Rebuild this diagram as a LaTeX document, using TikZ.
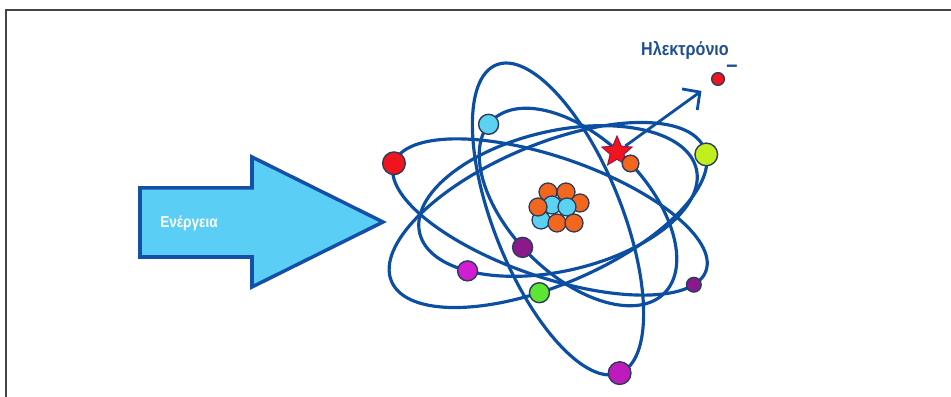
\documentclass[tikz,border=0pt]{standalone}
\usepackage{fontspec}
\setmainfont{Liberation Sans}
\newfontfamily\narrowfont{Liberation Sans Bold}[FakeStretch=0.86]
\usepackage{tikz}
\usetikzlibrary{shapes.geometric,arrows.meta,positioning,calc}
\definecolor{orbitblue}{HTML}{0B4EA2}
\definecolor{arrowfill}{HTML}{5BCEF5}
\definecolor{arrowdraw}{HTML}{1550A8}
\definecolor{labelblue}{HTML}{1F4E94}
\definecolor{edgenavy}{HTML}{2D3C5A}
\definecolor{framegray}{HTML}{444444}
\definecolor{eRed}{HTML}{F0141E}
\definecolor{eLime}{HTML}{BFF01E}
\definecolor{eSky}{HTML}{5CD2F2}
\definecolor{eOrange}{HTML}{F2661E}
\definecolor{ePlum}{HTML}{8A1A8C}
\definecolor{eMagenta}{HTML}{D21ED2}
\definecolor{eGreen}{HTML}{5AE632}
\definecolor{sparkedge}{HTML}{9A1440}
\tikzset{
  orbit/.style={draw=orbitblue,line width=2.7pt},
  electron/.style={circle,draw=edgenavy,line width=1.2pt,fill=#1,inner sep=0pt,minimum size=6mm},
  electron/.default={eRed},
  particle/.style={circle,draw=edgenavy,line width=1.1pt,fill=#1,inner sep=0pt,minimum size=5.4mm},
  particle/.default={eOrange},
  kick/.style={-{Straight Barb[length=3.8mm,width=7.8mm]},draw=orbitblue,line width=2.4pt},
}

\begin{document}
\begin{tikzpicture}[x=0.3mm,y=0.3mm,
  energyarrow/.style={draw=arrowdraw,fill=arrowfill,line width=3pt,line join=miter},
  tag/.style={font=\narrowfont\fontsize{16}{16}\selectfont,text=labelblue},
  spark/.style={star,star points=5,star point ratio=2.2,minimum size=9.6mm,inner sep=0pt,
    fill=eRed,draw=sparkedge,line width=0.8pt},
]
  \useasboundingbox (0,0) rectangle (951,397);
  \draw[framegray,line width=1.6pt] (6,0) -- (6,387) -- (951,387);

  % energy coming in
  \draw[energyarrow] (140,140) -- (140,209) -- (252,209) -- (252,240) -- (383,175)
    -- (252,110) -- (252,140) -- cycle;
  \node[font=\narrowfont\fontsize{13.5}{13.5}\selectfont,text=white] (energy) at (189,174) {Ενέργεια};

  % orbits
  \begin{scope}[shift={(558,178)},rotate=111.8]
    \draw[orbit] (0,0) ellipse [x radius=166,y radius=64];
    \coordinate (atFoot) at (180:166 and 64);
  \end{scope}
  \begin{scope}[shift={(548,182)},rotate=23]
    \draw[orbit] (0,0) ellipse [x radius=170,y radius=70];
    \coordinate (atLime) at (-5:170 and 70);
    \coordinate (atGreen) at (257:170 and 70);
  \end{scope}
  \begin{scope}[shift={(550,180)},rotate=-19]
    \draw[orbit] (0,0) ellipse [x radius=165,y radius=60];
    \coordinate (atRed) at (180:165 and 60);
    \coordinate (atPlumR) at (-16.7:165 and 60);
  \end{scope}
  \begin{scope}[shift={(578,190)},rotate=-45]
    \draw[orbit] (0,0) ellipse [x radius=122,y radius=68];
    \coordinate (atSky) at (184:122 and 68);
    \coordinate (atOrange) at (87:122 and 68);
    \coordinate (atPlumL) at (265:122 and 68);
  \end{scope}
  \begin{scope}[shift={(558,196)},rotate=13]
    \draw[orbit] (0,0) ellipse [x radius=142,y radius=70];
    \coordinate (atMagenta) at (223:142 and 70);
  \end{scope}

  % electrons
  \node[electron=eRed,minimum size=6.8mm] (eRedL) at (atRed) {};
  \node[electron=eSky] (eSky) at (atSky) {};
  \node[electron=eLime,minimum size=6.8mm] (eLime) at (atLime) {};
  \node[electron=ePlum] (ePlumL) at (atPlumL) {};
  \node[electron=eMagenta] (eMagL) at (atMagenta) {};
  \node[electron=eGreen] (eGreen) at (atGreen) {};
  \node[electron=ePlum,minimum size=4.4mm] (ePlumR) at (atPlumR) {};
  \node[electron=eMagenta!90!black,minimum size=6.8mm] (eFoot) at (atFoot) {};
  \node[spark] (spark) at (617,245) {};
  \node[electron=eOrange,minimum size=5mm] (eOrange) at (atOrange) {};

  % nucleus
  \foreach \px/\py/\col [count=\i] in {548/205/eOrange,566/205/eOrange,580/194/eOrange,
      552/192/eSky,567/190/eSky,541/177/eSky,538/190/eOrange,557/174/eOrange,574/174/eOrange}
    \node[particle=\col] (nuc\i) at (\px,\py) {};

  % ejected electron
  \node[electron=eRed,minimum size=3.8mm] (eFree) at (718,318) {};
  \node[tag,inner sep=0pt,font=\narrowfont\fontsize{20}{20}\selectfont] (charge) at (732,328) {–};
  \node[tag] (eLabel) at (685,347) {Ηλεκτρόνιο};
  \draw[kick,shorten >=4mm] (spark) -- (eFree);
\end{tikzpicture}
\end{document}
